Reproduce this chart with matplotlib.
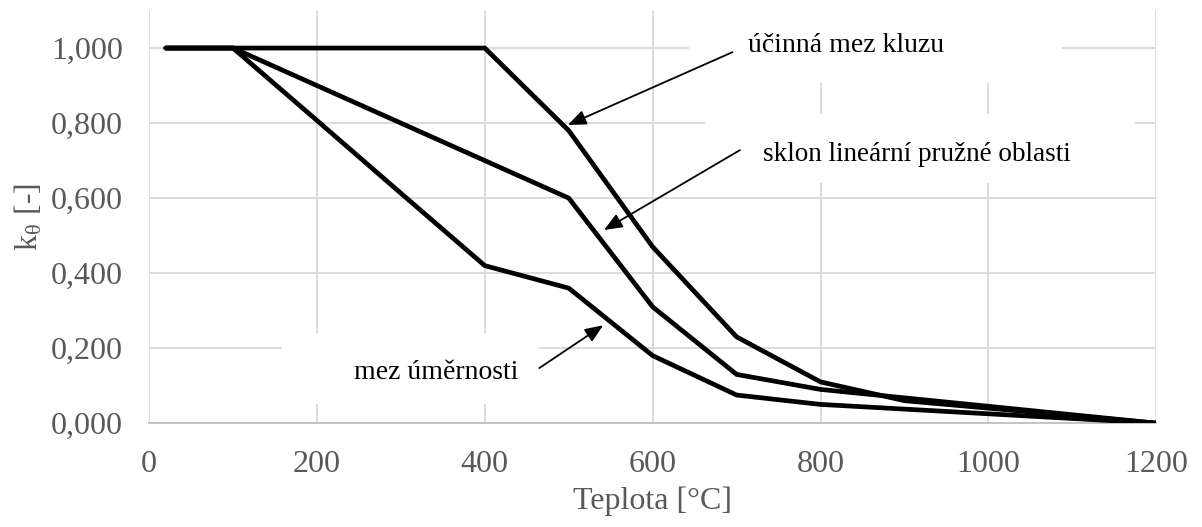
import matplotlib.pyplot as plt
from matplotlib.patches import Rectangle
from matplotlib.ticker import FuncFormatter

# Reduction factors of carbon steel at elevated temperature
teplota = [20, 100, 200, 300, 400, 500, 600, 700, 800, 900, 1000, 1100, 1200]
k_y = [1.000, 1.000, 1.000, 1.000, 1.000, 0.780, 0.470, 0.230, 0.110, 0.060, 0.040, 0.020, 0.000]
k_E = [1.000, 1.000, 0.900, 0.800, 0.700, 0.600, 0.310, 0.130, 0.090, 0.0675, 0.0450, 0.0225, 0.000]
k_p = [1.000, 1.000, 0.807, 0.613, 0.420, 0.360, 0.180, 0.075, 0.050, 0.0375, 0.0250, 0.0125, 0.000]

x_ticks = [0, 200, 400, 600, 800, 1000, 1200]
y_ticks = [0.0, 0.2, 0.4, 0.6, 0.8, 1.0]

plt.rcParams['font.family'] = ['Liberation Serif', 'DejaVu Serif']
plt.rcParams['mathtext.fontset'] = 'stix'

fig = plt.figure(figsize=(12.02, 5.27), dpi=100)
ax = fig.add_axes([0.124, 0.197, 0.838, 0.783])
ax.set_axisbelow(True)

for k in (k_y, k_E, k_p):
    ax.plot(teplota, k, color='black', lw=3.4, solid_capstyle='round',
            solid_joinstyle='miter', zorder=3)

ax.set_xlim(0, 1200)
ax.set_ylim(0, 1.1)
ax.set_xticks(x_ticks)
ax.set_yticks(y_ticks)
ax.yaxis.set_major_formatter(FuncFormatter(lambda v, p: f'{v:.3f}'.replace('.', ',')))
ax.grid(True, color='#d9d9d9', lw=1.3)
ax.tick_params(length=0, labelsize=23, labelcolor='#595959')
ax.tick_params(axis='x', pad=19)
ax.tick_params(axis='y', pad=19)
for side in ('top', 'right', 'left'):
    ax.spines[side].set_visible(False)
ax.spines['bottom'].set_color('#bfbfbf')
ax.spines['bottom'].set_linewidth(1.3)
ax.spines['bottom'].set_zorder(2)

ax.set_xlabel('Teplota [°C]', fontsize=23, color='#595959', labelpad=6)
ax.set_ylabel(r'k$_{\mathregular{θ}}$ [-]', fontsize=23, color='#595959', labelpad=4)

# white label boxes that hide the grid behind the callouts
for x0, y0, w, h in [(643, 0.907, 445, 0.2), (662, 0.64, 513, 0.184), (158, 0.051, 307, 0.189)]:
    ax.add_patch(Rectangle((x0, y0), w, h, facecolor='white', edgecolor='none',
                           zorder=1, clip_on=True))

arrow = dict(arrowstyle='-|>,head_length=1.1,head_width=0.45', color='black', lw=1.3,
             shrinkA=0, shrinkB=0)
ax.annotate('', xy=(499, 0.795), xytext=(695, 0.989), arrowprops=arrow, zorder=4)
ax.annotate('', xy=(542, 0.515), xytext=(704, 0.728), arrowprops=arrow, zorder=4)
ax.annotate('', xy=(541, 0.261), xytext=(465, 0.147), arrowprops=arrow, zorder=4)

ax.text(713, 1.008, 'účinná mez kluzu', fontsize=20, va='center', ha='left', zorder=4)
ax.text(732, 0.715, 'sklon lineární pružné oblasti', fontsize=19.5, va='center', ha='left', zorder=4)
ax.text(244, 0.136, 'mez úměrnosti', fontsize=20, va='center', ha='left', zorder=4)

fig.savefig('out.png', dpi=100)
